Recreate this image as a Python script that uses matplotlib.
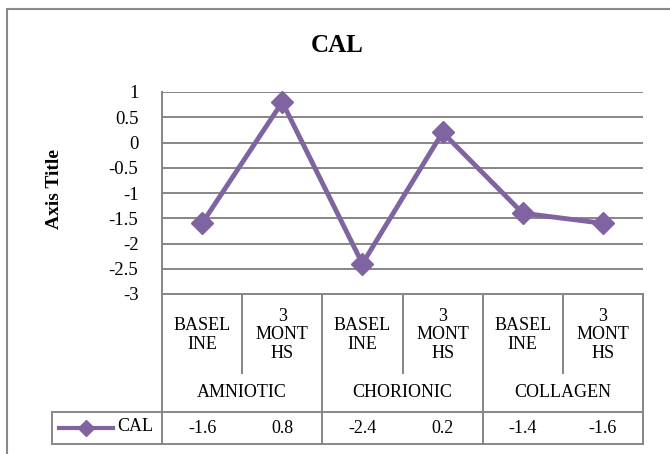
import matplotlib

matplotlib.use("Agg")
import matplotlib.pyplot as plt
from matplotlib.lines import Line2D
from matplotlib.patches import Rectangle

plt.rcParams["font.family"] = ["Liberation Serif", "DejaVu Serif"]
plt.rcParams["axes.unicode_minus"] = False

# data
series_name = "CAL"
groups = ["AMNIOTIC", "CHORIONIC", "COLLAGEN"]
periods = ["BASEL\nINE", "3\nMONT\nHS"]
values = [-1.6, 0.8, -2.4, 0.2, -1.4, -1.6]
yticks = [1, 0.5, 0, -0.5, -1, -1.5, -2, -2.5, -3]

W, H = 670, 454
line_c = "#8064A2"
grid_c = "#868686"
fs = 13

fig = plt.figure(figsize=(W / 100, H / 100), dpi=100)

# outer chart border (right/bottom edges fall outside the picture)
fig.patches.append(Rectangle((7 / W, -0.1), 1.2, (H - 9) / H + 0.1,
                             transform=fig.transFigure, fill=False,
                             edgecolor="#8a8a8a", lw=1.5))


def px_axes(x0, y0, x1, y1):
    # axes placed by pixel box (top-left origin)
    return fig.add_axes([x0 / W, (H - y1) / H, (x1 - x0) / W, (y1 - y0) / H])


fig.text(337 / W, (H - 45) / H, "CAL", ha="center", va="center",
         fontsize=18, fontweight="bold")

# main plot
ax = px_axes(162, 92, 643, 294)
n = len(values)
xs = [i + 0.5 for i in range(n)]
ax.plot(xs, values, color=line_c, lw=3.5, marker="D", ms=11, zorder=3, clip_on=False)
ax.set_xlim(0, n)
ax.set_ylim(min(yticks), max(yticks))
ax.set_yticks(yticks)
ax.set_yticklabels([f"{v:g}" for v in yticks])
ax.set_xticks([])
ax.tick_params(axis="y", length=0, pad=17, labelsize=13.5)
ax.grid(axis="y", color=grid_c, lw=1.4)
ax.set_axisbelow(True)
for s in ["top", "right", "bottom"]:
    ax.spines[s].set_visible(False)
ax.spines["left"].set_color(grid_c)
ax.spines["left"].set_linewidth(1.4)
ax.set_ylabel("Axis Title", fontsize=14, fontweight="bold")
ax.yaxis.set_label_coords(-0.205, 0.52)

# category axis + data table below
left_px = 52
unit = (643 - 162) / n
tab = px_axes(left_px, 294, 643, 444)
tab.set_xlim(-(162 - left_px) / unit, n)
tab.set_ylim(444, 294)
tab.axis("off")
xl = tab.get_xlim()[0]
lk = dict(color=grid_c, lw=1.4, clip_on=False)

tab.plot([0, n], [294, 294], **lk)
for g in range(len(groups) + 1):
    tab.plot([2 * g, 2 * g], [294, 444], **lk)
for g in range(len(groups)):
    tab.plot([2 * g + 1, 2 * g + 1], [294, 373], **lk)
tab.plot([xl, n], [412, 412], **lk)
tab.plot([xl, n], [444, 444], **lk)
tab.plot([xl, xl], [412, 444], **lk)

for i in range(n):
    tab.text(i + 0.5, 335, periods[i % 2], ha="center", va="center",
             fontsize=fs, linespacing=1.15)
    tab.text(i + 0.5, 429, f"{values[i]:g}", ha="center", va="center", fontsize=fs)
for g, name in enumerate(groups):
    tab.text(2 * g + 1, 393, name, ha="center", va="center", fontsize=fs)

# legend key in the table
kx0 = xl + (59 - left_px) / unit
kx1 = xl + (113 - left_px) / unit
tab.add_line(Line2D([kx0, kx1], [428, 428], color=line_c, lw=3))
tab.plot([(kx0 + kx1) / 2], [428], marker="D", ms=8, color=line_c)
tab.text(xl + (117 - left_px) / unit, 427, series_name, ha="left", va="center", fontsize=fs)

fig.savefig("out.png", dpi=100)
